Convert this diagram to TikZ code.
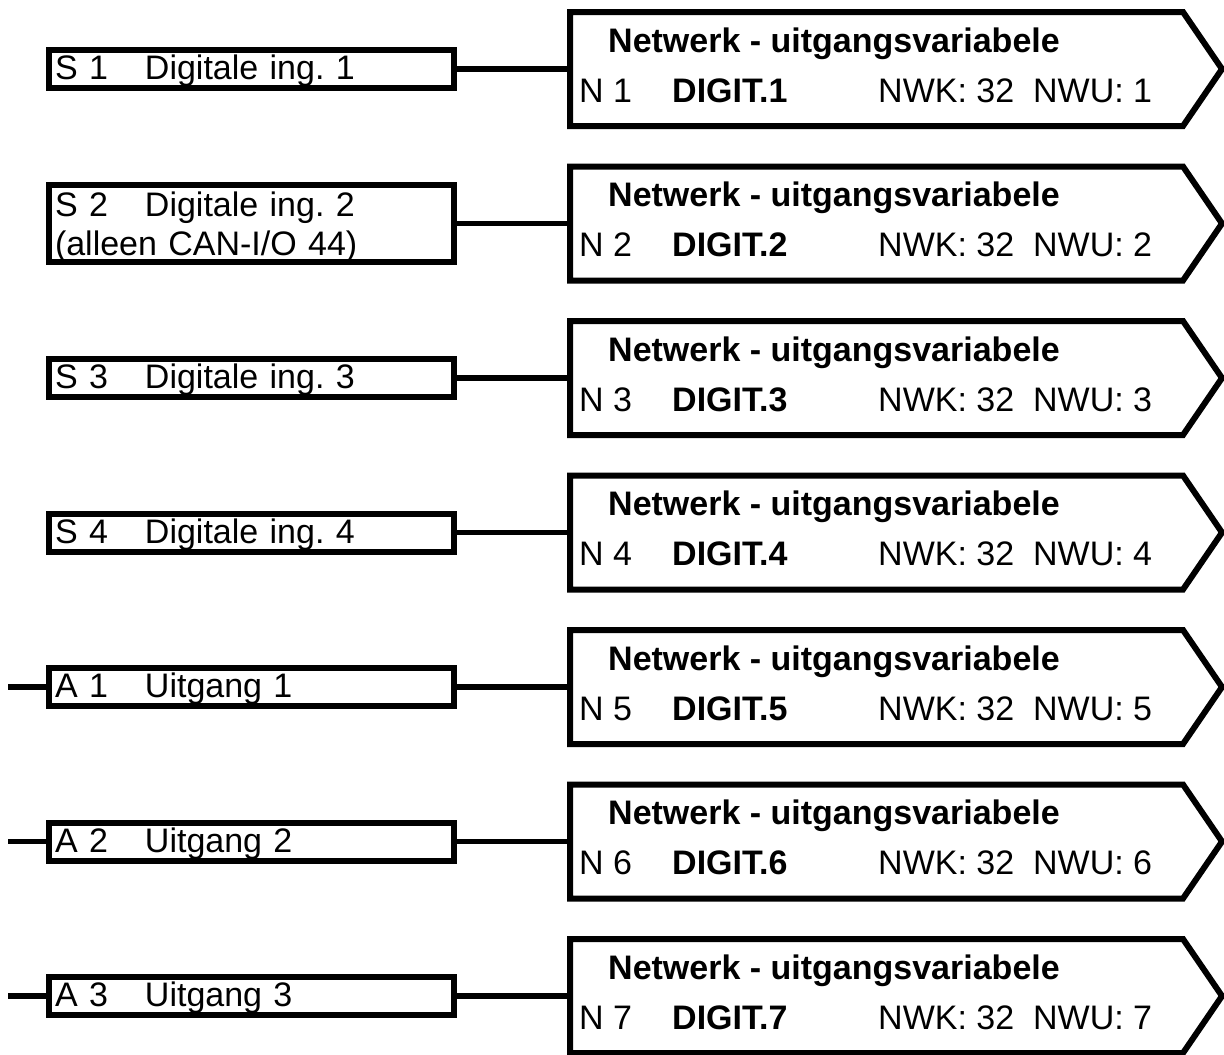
\documentclass[tikz,border=0pt]{standalone}
\usepackage{fontspec}
\setmainfont{Liberation Sans}
\usepackage{tikz}
\frenchspacing

\newcommand{\netfont}{\fontsize{34}{39}\selectfont}

\tikzset{
	inbox/.style={draw, line width=6pt, outer sep=0pt, anchor=west, minimum width=405pt, minimum height=38pt, inner xsep=6.5pt, inner ysep=0pt, text width=392pt, align=left, text height=24pt, text depth=3pt},
	inboxtwo/.style={draw, line width=6pt, outer sep=0pt, anchor=west, minimum width=405pt, minimum height=77pt, inner xsep=6.5pt, inner ysep=0pt, text width=392pt, align=left, text height=24pt, text depth=38pt},
	netfield/.style={minimum width=613pt, minimum height=114pt, anchor=west, outer sep=0pt, inner sep=0pt},
	netbox/.style={line width=6pt, line join=miter},
	wire/.style={line width=5.5pt},
	lbl/.style={anchor=base west, inner sep=0pt}
}

\begin{document}
\begin{tikzpicture}[x=1pt,y=-1pt,font=\netfont]
		\useasboundingbox (0,0) rectangle (1224,1055);
		% left: inputs and outputs of the module
		\foreach \i/\st/\lab in {1/inbox/{\makebox[90pt][l]{S 1}Digitale ing. 1},
			2/inboxtwo/{\makebox[90pt][l]{S 2}Digitale ing. 2\\(alleen CAN-I/O 44)},
			3/inbox/{\makebox[90pt][l]{S 3}Digitale ing. 3},
			4/inbox/{\makebox[90pt][l]{S 4}Digitale ing. 4},
			5/inbox/{\makebox[90pt][l]{A 1}Uitgang 1},
			6/inbox/{\makebox[90pt][l]{A 2}Uitgang 2},
			7/inbox/{\makebox[90pt][l]{A 3}Uitgang 3}}
		{
		\pgfmathsetmacro\ry{69+154.5*(\i-1)}
		\node[\st] (in\i) at (48.5,\ry) {\lab};
		% right: network output variable
		\node[netfield] (net\i) at (570,\ry) {};
		\draw[netbox] (net\i.north west) -- (net\i.north east) -- ++(39,57) -- (net\i.south east) -- (net\i.south west) -- cycle;
		\draw[wire] (in\i) -- (net\i);
		\node[lbl, font=\netfont\bfseries] (ttl\i) at (608,\ry-17) {Netwerk - uitgangsvariabele};
		\node[lbl] (nr\i) at (579,\ry+33) {N \i};
		\node[lbl, font=\netfont\bfseries] (var\i) at (672,\ry+33) {DIGIT.\i};
		\node[lbl] (adr\i) at (878,\ry+33) {NWK: 32 \ NWU: \i};
		}
		% outputs have a lead on the left
		\foreach \i in {5,6,7}
		{
		\pgfmathsetmacro\ry{69+154.5*(\i-1)}
		\coordinate (lead\i) at (8,\ry);
		\draw[wire] (lead\i) -- (in\i);
		}
	\end{tikzpicture}
\end{document}
